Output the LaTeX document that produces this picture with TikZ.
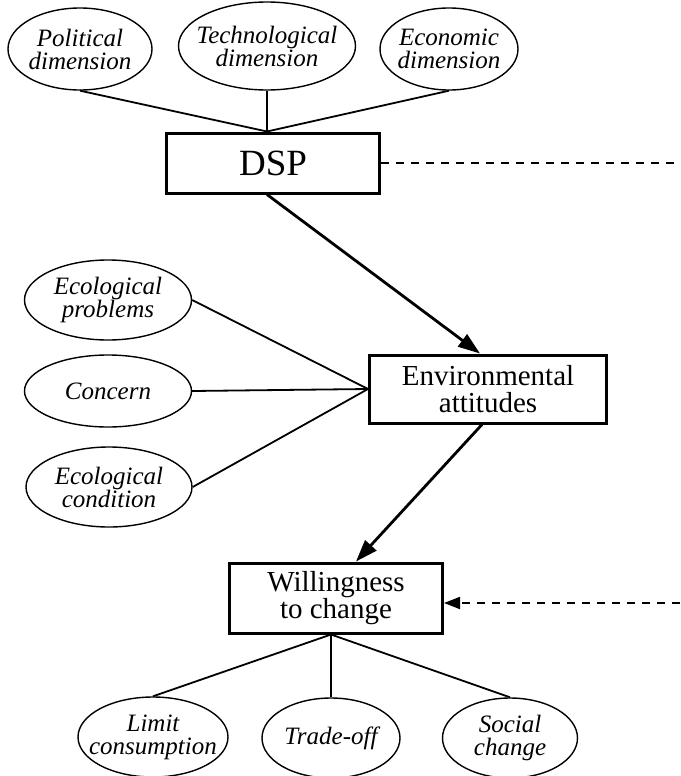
\documentclass[tikz,border=0pt]{standalone}
\usepackage{fontspec}
\setmainfont{Liberation Serif}
\usetikzlibrary{arrows.meta, shapes.geometric}

\begin{document}
\begin{tikzpicture}[x=0.5pt, y=-0.5pt,
		facet/.style={draw, ellipse, line width=0.7pt, inner xsep=-6pt, inner ysep=0pt, align=center, font=\fontsize{12.5}{11.5}\selectfont\itshape},
		block/.style={draw, rectangle, line width=1.5pt, align=center, font=\fontsize{14.5}{13.5}\selectfont},
		link/.style={line width=0.9pt},
		flow/.style={line width=1.4pt, -{Triangle[length=11pt, width=7.5pt]}},
		hint/.style={line width=0.9pt, dash pattern=on 4pt off 3.5pt}]
	\useasboundingbox (0,0) rectangle (680,776);
	
	\node[facet, minimum width=72pt, minimum height=41pt] (political) at (80,49) {Political\\dimension};
	\node[facet, minimum width=88.5pt, minimum height=44pt] (technological) at (267,46) {Technological\\dimension};
	\node[facet, minimum width=69pt, minimum height=41pt] (economic) at (449,49) {Economic\\dimension};
	
	\node[block, minimum width=106.5pt, minimum height=30pt, font=\fontsize{18.5}{18}\selectfont] (dsp) at (273,163) {DSP};
	\node[block, minimum width=118.5pt, minimum height=34pt] (attitudes) at (488,389) {Environmental\\attitudes};
	\node[block, minimum width=106.5pt, minimum height=35pt] (willing) at (336,598) {Willingness\\to change};
	
	\node[facet, minimum width=83.5pt, minimum height=40pt] (problems) at (108,300) {Ecological\\problems};
	\node[facet, minimum width=83.5pt, minimum height=36pt] (concern) at (108,391) {Concern};
	\node[facet, minimum width=83pt, minimum height=40pt] (condition) at (109,487) {Ecological\\condition};
	
	\node[facet, minimum width=75pt, minimum height=40pt] (limit) at (153,737) {Limit\\consumption};
	\node[facet, minimum width=69pt, minimum height=40pt] (tradeoff) at (331,738) {Trade-off};
	\node[facet, minimum width=67.5pt, minimum height=40pt] (social) at (510,738) {Social\\change};
	
	\coordinate (dsptop) at (technological.south |- dsp.north);
	\coordinate (willbottom) at (tradeoff.north |- willing.south);
	\coordinate (dspout) at (680,163);
	\coordinate (willin) at (680,603);
	
	\foreach \n in {political, technological, economic}
		\draw[link] (\n.south) -- (dsptop);
	\foreach \n in {problems, concern, condition}
		\draw[link] (\n.east) -- (attitudes.west);
	\foreach \n in {limit, tradeoff, social}
		\draw[link] (willbottom) -- (\n.north);
	
	\draw[flow] (dsptop |- dsp.south) -- ([xshift=-4pt]attitudes.north);
	\draw[flow] ([xshift=-3pt]attitudes.south) -- ([xshift=10pt]willing.north);
	
	\draw[hint] (dsp.east) -- (dspout);
	\draw[hint, -{Triangle[length=8pt, width=6pt]}] (willin) -- (willin -| willing.east);
\end{tikzpicture}
\end{document}
